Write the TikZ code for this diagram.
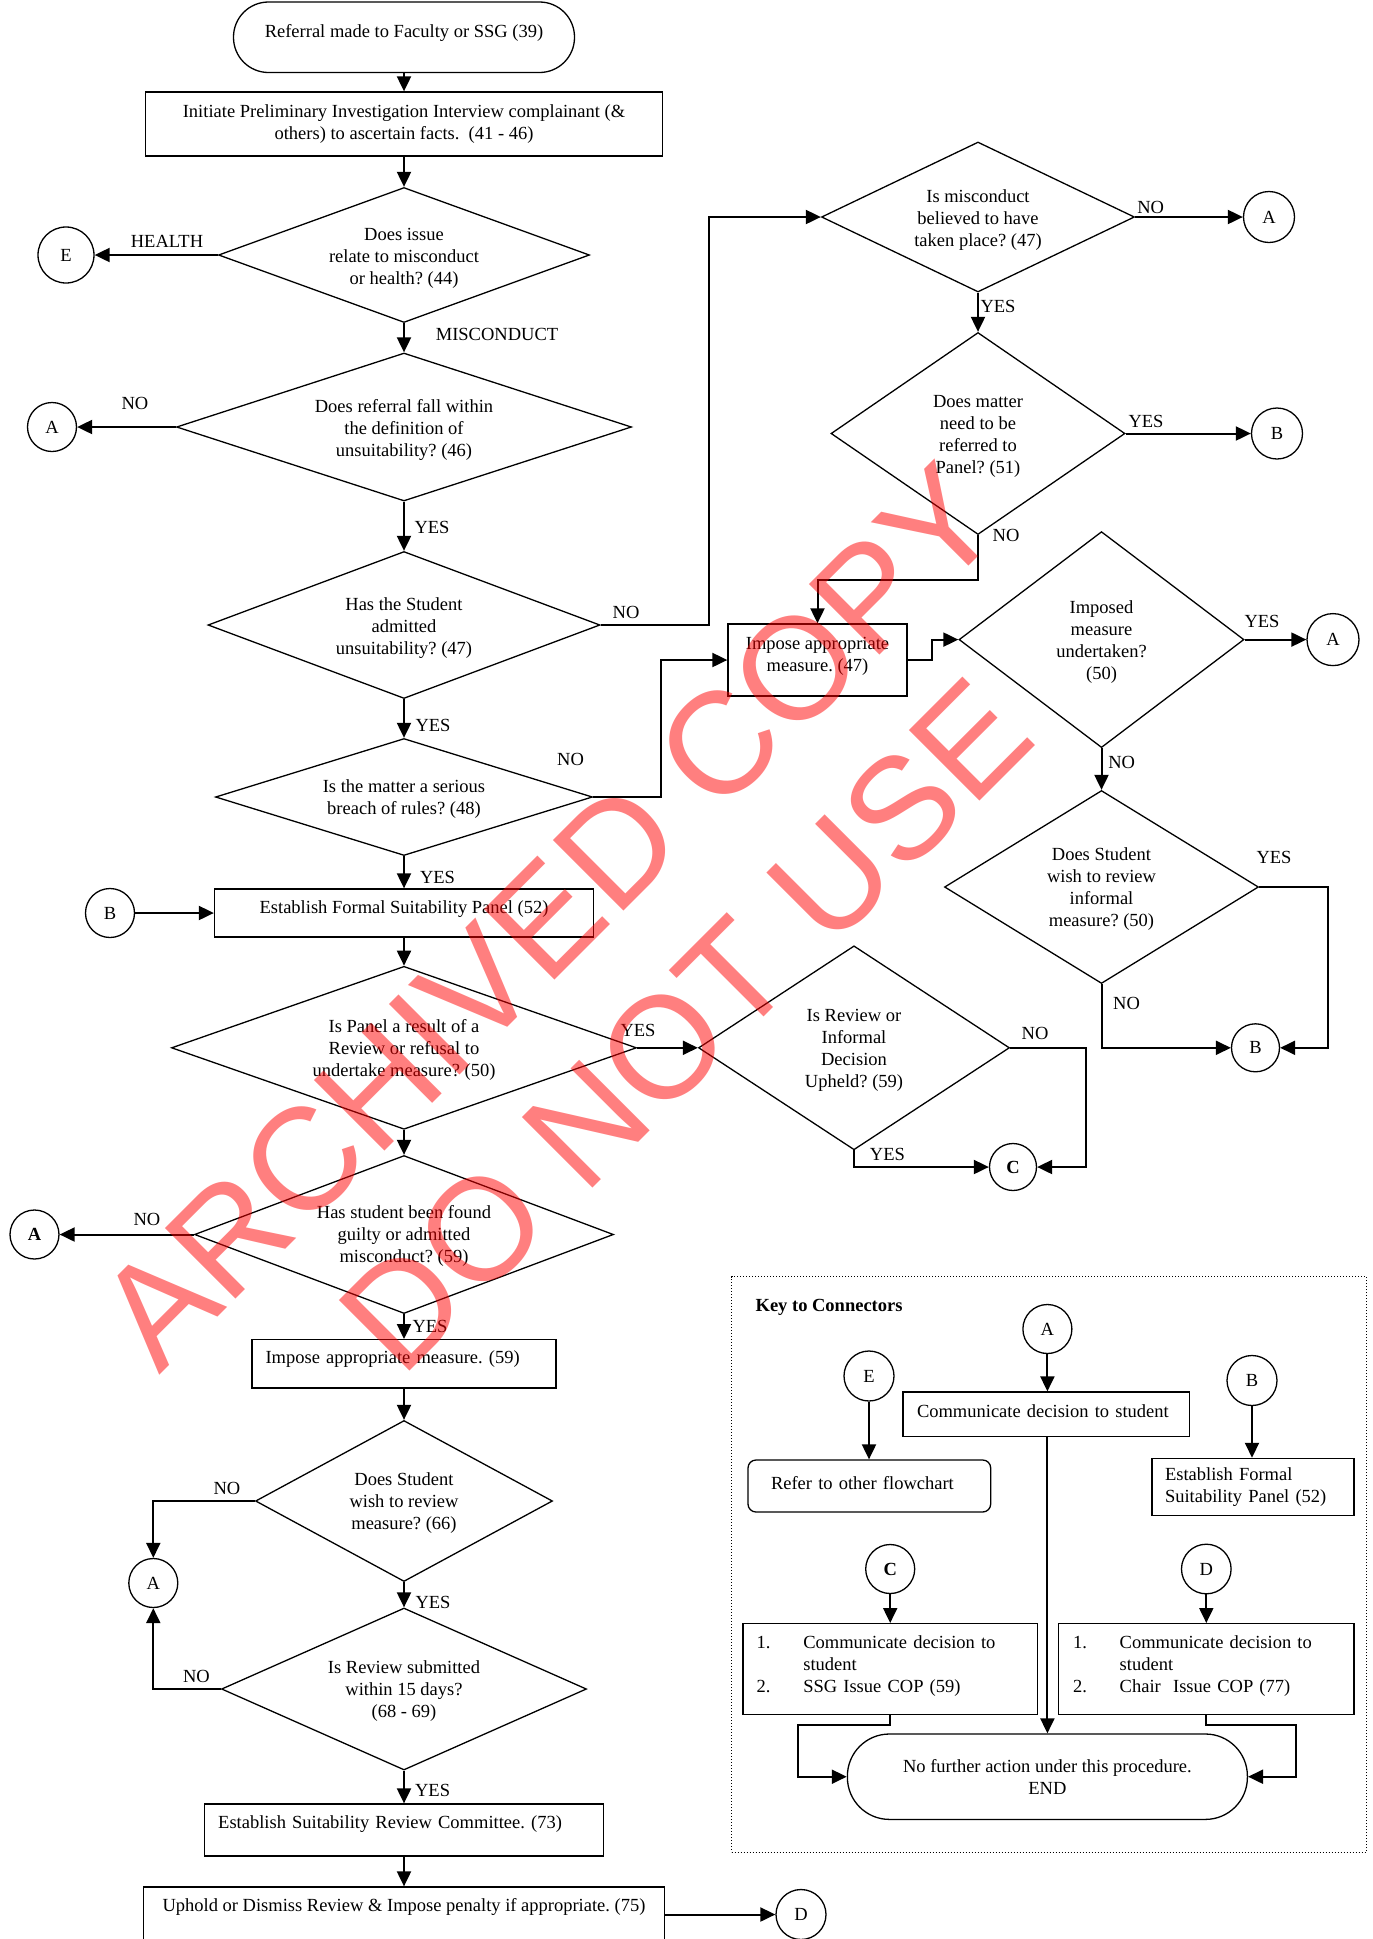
\documentclass[tikz,border=0pt]{standalone}
\usepackage{fontspec}
\setmainfont{Liberation Serif}
\newfontfamily\wmfont{Liberation Sans}
\usetikzlibrary{arrows.meta,shapes.geometric,shapes.misc}
\frenchspacing
\newcommand\mvtext[3]{\raisebox{#1}[\height][\depth]{\begin{tabular}{@{}#2@{}}#3\end{tabular}}}
\begin{document}
\begin{tikzpicture}[x=1pt,y=-1pt,
  every node/.style={font=\fontsize{18.5}{22}\selectfont},
  box/.style={draw,line width=1.3pt,rectangle,inner sep=0pt,align=center},
  dia/.style={draw,line width=1.3pt,diamond,inner sep=0pt},
  conn/.style={draw,line width=1.3pt,circle,inner sep=0pt},
  term/.style={draw,line width=1.3pt,rectangle,inner sep=0pt,align=center},
  lab/.style={inner sep=0pt},
  arr/.style={line width=2pt,-{Triangle[length=15pt,width=14pt]}},
  wm/.style={rotate=45,anchor=base,text=red,opacity=0.5,inner sep=0pt,font=\wmfont\fontsize{145}{174}\selectfont},
]
\useasboundingbox (0,0) rectangle (1373,1939);

% ---------- main column ----------
\node[term,minimum width=341pt,text height=35.5pt,text depth=35pt,rounded corners=35pt] (start) at (404,37.25) {Referral made to Faculty or SSG (39)};
\node[box,minimum width=517pt,minimum height=64pt] (box1) at (404,124) {Initiate Preliminary Investigation Interview complainant (\&\\others) to ascertain facts.~ (41 - 46)};
\node[dia,minimum width=371pt,minimum height=135pt,aspect=2.75] (d1) at (404,255) {\mvtext{-3pt}{c}{Does issue\\relate to misconduct\\or health? (44)}};
\node[dia,minimum width=455pt,minimum height=148pt,aspect=3.07] (d2) at (404,427) {\mvtext{-3pt}{c}{Does referral fall within\\the definition of\\unsuitability? (46)}};
\node[dia,minimum width=392pt,minimum height=147pt,aspect=2.67] (d3) at (404,625) {\mvtext{-3pt}{c}{Has the Student\\admitted\\unsuitability? (47)}};
\node[dia,minimum width=377pt,minimum height=117pt,aspect=3.22] (d5) at (404,797) {\mvtext{-2pt}{c}{Is the matter a serious\\breach of rules? (48)}};
\node[box,minimum width=379pt,text height=24.5pt,text depth=23.5pt] (box52) at (404,913) {Establish Formal Suitability Panel (52)};
\node[dia,minimum width=465pt,minimum height=163pt,aspect=2.85] (d6) at (404,1047.8) {\mvtext{-2pt}{c}{Is Panel a result of a\\Review or refusal to\\undertake measure? (50)}};
\node[dia,minimum width=419pt,minimum height=158pt,aspect=2.65] (d8) at (404,1234.5) {\mvtext{-2pt}{c}{Has student been found\\guilty or admitted\\misconduct? (59)}};
\node[box,text width=277pt,align=left,inner xsep=13.5pt,text height=23.6pt,text depth=24.7pt] (box59) at (404,1363.85) {Impose appropriate measure. (59)};
\node[dia,minimum width=297pt,minimum height=161pt,aspect=1.845] (d12) at (404,1501) {\mvtext{-2pt}{c}{Does Student\\wish to review\\measure? (66)}};
\node[dia,minimum width=365pt,minimum height=162pt,aspect=2.25] (d13) at (404,1689) {\mvtext{-2pt}{c}{Is Review submitted\\within 15 days?\\(68 - 69)}};
\node[box,text width=371.6pt,align=left,inner xsep=13.5pt,text height=24.5pt,text depth=27.5pt] (box73) at (404,1830) {Establish Suitability Review Committee. (73)};
\node[box,minimum width=520.8pt,text height=24.5pt,text depth=38.5pt] (box75) at (404,1918.5) {Uphold or Dismiss Review \& Impose penalty if appropriate. (75)};

% ---------- right column ----------
\node[dia,minimum width=313pt,minimum height=150pt,aspect=2.087] (d4) at (978,217) {\mvtext{-3pt}{c}{Is misconduct\\believed to have\\taken place? (47)}};
\node[dia,minimum width=294pt,minimum height=202pt,aspect=1.455] (d9) at (978,433.5) {\mvtext{-3pt}{c}{Does matter\\need to be\\referred to\\Panel? (51)}};
\node[box,minimum width=179pt,minimum height=72pt] (box47) at (817.5,660) {\mvtext{3.5pt}{c}{Impose appropriate\\measure. (47)}};
\node[dia,minimum width=285pt,minimum height=216pt,aspect=1.32] (d10) at (1101.5,639.6) {\mvtext{-2pt}{c}{Imposed\\measure\\undertaken?\\(50)}};
\node[dia,minimum width=314pt,minimum height=193pt,aspect=1.627] (d11) at (1101.5,887) {\mvtext{-2pt}{c}{Does Student\\wish to review\\informal\\measure? (50)}};
\node[dia,minimum width=311pt,minimum height=204pt,aspect=1.525] (d7) at (854,1047.8) {\mvtext{-2pt}{c}{Is Review or\\Informal\\Decision\\Upheld? (59)}};

% ---------- connector circles ----------
\node[conn,minimum size=56pt] (E1) at (66,255) {E};
\node[conn,minimum size=49pt] (A1) at (52,427) {A};
\node[conn,minimum size=51pt] (A2) at (1269,217) {A};
\node[conn,minimum size=51pt] (B1) at (1277,433.5) {B};
\node[conn,minimum size=52pt] (A3) at (1333,639.6) {A};
\node[conn,minimum size=49pt] (B2) at (110,913) {B};
\node[conn,minimum size=48pt] (B3) at (1255.5,1047.8) {B};
\node[conn,minimum size=47pt] (C1) at (1013,1167) {\textbf{C}};
\node[conn,minimum size=49pt] (A4) at (34.5,1234.5) {\textbf{A}};
\node[conn,minimum size=49pt] (A5) at (153.3,1583) {A};
\node[conn,minimum size=50pt] (D1) at (801,1914.5) {D};

% ---------- key ----------
\node[draw,dotted,line width=1pt,minimum width=634.7pt,minimum height=575.8pt,inner sep=0pt] (keybox) at (1049.05,1564.4) {};
\node[anchor=west,inner sep=0pt,font=\bfseries\fontsize{18.5}{22}\selectfont] (keytitle) at (755.4,1307.6) {Key to Connectors};
\node[conn,minimum size=49pt] (kA) at (1047.4,1329) {A};
\node[box,text width=258.4pt,align=left,inner xsep=14pt,text height=25pt,text depth=19.7pt] (comm) at (1046.2,1414.35) {Communicate decision to student};
\node[conn,minimum size=50pt] (kE) at (869,1376) {E};
\node[box,rounded corners=8pt,text width=196.7pt,align=left,inner xsep=23pt,text height=29.5pt,text depth=22.5pt] (refer) at (869.35,1486) {Refer to other flowchart};
\node[conn,minimum size=50pt] (kB) at (1252,1380.5) {B};
\node[box,text width=176pt,align=left,inner xsep=13pt,minimum height=57.2pt] (efsp) at (1253,1487) {Establish Formal\\Suitability Panel (52)};
\node[conn,minimum size=49pt] (kC) at (890.2,1569) {\textbf{C}};
\node[box,text width=267.2pt,align=left,inner xsep=13.6pt,minimum height=91pt] (cbox) at (890.2,1669.15) {\mvtext{3pt}{l}{\makebox[46.7pt][l]{1.}Communicate decision to\\\hspace*{46.7pt}student\\\makebox[46.7pt][l]{2.}SSG Issue COP (59)}};
\node[conn,minimum size=49.6pt] (kD) at (1206.3,1569) {D};
\node[box,text width=266.6pt,align=left,inner xsep=14.4pt,minimum height=91pt] (dbox) at (1206.3,1669.15) {\mvtext{3pt}{l}{\makebox[46.7pt][l]{1.}Communicate decision to\\\hspace*{46.7pt}student\\\makebox[46.7pt][l]{2.}Chair~ Issue COP (77)}};
\node[term,minimum width=400pt,minimum height=85.4pt,rounded corners=42pt] (endt) at (1047.4,1776.7) {No further action under this procedure.\\END};

% ---------- connectors ----------
\draw[arr] (start.south) -- (box1.north);
\draw[arr] (box1.south) -- (d1.north);
\draw[arr] (d1.west) -- (E1.east);
\draw[arr] (d1.south) -- (d2.north);
\draw[arr] (d2.west) -- (A1.east);
\draw[arr] (d2.south) -- (d3.north);
\coordinate (j1) at (709.4,217);
\draw[arr] (d3.east) -| (j1) -- (d4.west);
\draw[arr] (d3.south) -- (d5.north);
\coordinate (j2) at (660.7,660);
\draw[arr] (d5.east) -| (j2) -- (box47.west);
\draw[arr] (d5.south) -- (box52.north);
\draw[arr] (B2.east) -- (box52.west);
\draw[arr] (box52.south) -- (d6.north);
\draw[arr] (d6.east) -- (d7.west);
\draw[arr] (d6.south) -- (d8.north);
\draw[arr] (d8.west) -- (A4.east);
\draw[arr] (d8.south) -- (box59.north);
\draw[arr] (box59.south) -- (d12.north);
\draw[arr] (d12.west) -| (A5.north);
\draw[arr] (d12.south) -- (d13.north);
\draw[arr] (d13.west) -| (A5.south);
\draw[arr] (d13.south) -- (box73.north);
\draw[arr] (box73.south) -- (box75.north);
\draw[arr] (box75.east |- D1.west) -- (D1.west);
\draw[arr] (d4.east) -- (A2.west);
\draw[arr] (d4.south) -- (d9.north);
\draw[arr] (d9.east) -- (B1.west);
\coordinate (j3) at (978,580);
\draw[arr] (d9.south) -- (j3) -| (box47.north);
\coordinate (j4) at (931.8,660);
\draw[arr] (box47.east) -- (j4) |- (d10.west);
\draw[arr] (d10.east) -- (A3.west);
\draw[arr] (d10.south) -- (d11.north);
\coordinate (j5) at (1327.7,1047.8);
\draw[arr] (d11.east) -| (j5) -- (B3.east);
\draw[arr] (d11.south) |- (B3.west);
\coordinate (j6) at (1085.6,1167);
\draw[arr] (d7.east) -| (j6) -- (C1.east);
\draw[arr] (d7.south) |- (C1.west);

\draw[arr] (kA.south) -- (kA.south |- comm.north);
\draw[arr] (kE.south) -- (kE.south |- refer.north);
\draw[arr] (kB.south) -- (kB.south |- efsp.north);
\draw[arr] (kC.south) -- (kC.south |- cbox.north);
\draw[arr] (kD.south) -- (kD.south |- dbox.north);
\draw[arr] (endt.north |- comm.south) -- (endt.north);
\coordinate (j7) at (798.3,1776.7);
\draw[arr] (cbox.south) -- ++(0,10) -| (j7) -- (endt.west);
\coordinate (j8) at (1295.6,1776.7);
\draw[arr] (dbox.south) -- ++(0,10) -| (j8) -- (endt.east);

% ---------- labels ----------
\node[lab] (l1) at (167,241.5) {HEALTH};
\node[lab] (l2) at (497,334) {MISCONDUCT};
\node[lab] (l3) at (135,403) {NO};
\node[lab] (l4) at (432,527) {YES};
\node[lab] (l5) at (626,612.5) {NO};
\node[lab] (l6) at (433,725) {YES};
\node[lab] (l7) at (570.5,759) {NO};
\node[lab] (l8) at (437.5,877.6) {YES};
\node[lab] (l9) at (638,1030.7) {YES};
\node[lab] (l10) at (1150.7,207) {NO};
\node[lab] (l11) at (998,306.4) {YES};
\node[lab] (l12) at (1146,421) {YES};
\node[lab] (l13) at (1006,535) {NO};
\node[lab] (l14) at (1262,621) {YES};
\node[lab] (l15) at (1121.6,762.4) {NO};
\node[lab] (l16) at (1274,857) {YES};
\node[lab] (l17) at (1126.5,1003) {NO};
\node[lab] (l18) at (1035,1033) {NO};
\node[lab] (l19) at (887.4,1154.8) {YES};
\node[lab] (l20) at (147,1219.4) {NO};
\node[lab] (l21) at (430,1326) {YES};
\node[lab] (l22) at (227,1488) {NO};
\node[lab] (l23) at (433,1602) {YES};
\node[lab] (l24) at (196.5,1676) {NO};
\node[lab] (l25) at (432.6,1790.6) {YES};

% ---------- watermark ----------
\node[wm] (wm1) at (584,951) {ARCHIVED COPY};
\node[wm] (wm2) at (721,1060) {DO NOT USE};
\end{tikzpicture}
\end{document}
